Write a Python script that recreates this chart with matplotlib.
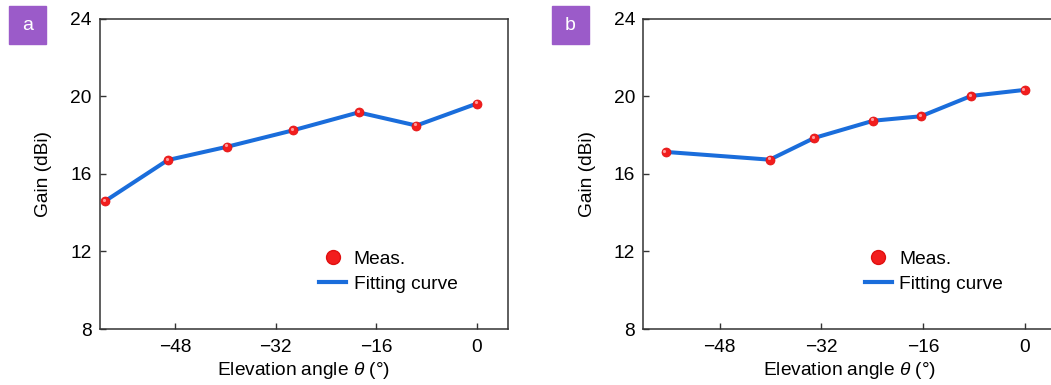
import matplotlib
matplotlib.use("Agg")
import matplotlib.pyplot as plt
import matplotlib.transforms as mtransforms
from matplotlib.lines import Line2D

plt.rcParams['font.family'] = ['Liberation Sans', 'DejaVu Sans']
plt.rcParams['mathtext.fontset'] = 'custom'
plt.rcParams['mathtext.it'] = 'Liberation Sans:italic'
plt.rcParams['mathtext.rm'] = 'Liberation Sans'

# Panel a data
angle_a = [-59.2, -49.2, -39.7, -29.3, -18.8, -9.6, 0.0]
gain_a = [14.6, 16.72, 17.41, 18.25, 19.18, 18.5, 19.63]
# Panel b data
angle_b = [-56.5, -40.1, -33.1, -23.8, -16.3, -8.4, 0.0]
gain_b = [17.14, 16.74, 17.86, 18.75, 18.98, 20.03, 20.34]

xticks = [-48, -32, -16, 0]
yticks = [8, 12, 16, 20, 24]
panel_labels = ['a', 'b']

LINE_C = '#1a6ddb'
RED = '#f21d1d'
PURPLE = '#9b5bc9'
FS = 13.8

fig = plt.figure(figsize=(10.51, 3.85), dpi=100)
W, H = 1051, 385
ax_a = fig.add_axes([100 / W, 1 - 329 / H, 408 / W, 310 / H])
ax_b = fig.add_axes([643.3 / W, 1 - 329 / H, 413 / W, 310 / H])

def sphere(ax, x, y, size, zorder=4):
    ax.plot(x, y, ls='none', marker='o', ms=size, mfc=RED, mec='#e01010', mew=0.5, zorder=zorder)
    off = mtransforms.ScaledTranslation(-size * 0.12 / 72, size * 0.14 / 72, fig.dpi_scale_trans)
    ax.plot(x, y, ls='none', marker='o', ms=size * 0.35, mfc='#ff9a9a', mec='none',
            zorder=zorder + 1, transform=ax.transData + off)

for ax, xs, ys, lab, lx in [(ax_a, angle_a, gain_a, panel_labels[0], 9),
                             (ax_b, angle_b, gain_b, panel_labels[1], 552)]:
    ax.plot(xs, ys, color=LINE_C, lw=2.9, zorder=3, solid_capstyle='round')
    sphere(ax, xs, ys, 6.5)
    ax.set_xlim(-60, 5)
    ax.set_ylim(8, 24)
    ax.set_xticks(xticks)
    ax.set_xticklabels([('\u2212%d' % -t) if t < 0 else str(t) for t in xticks])
    ax.set_yticks(yticks)
    ax.tick_params(direction='in', length=4, width=1, labelsize=FS, color='#333333')
    ax.tick_params(axis='x', pad=7)
    ax.tick_params(axis='y', pad=6)
    for s in ax.spines.values():
        s.set_color('#333333')
        s.set_linewidth(1.1)
    ax.set_xlabel(r'Elevation angle $\it{\theta}$ (°)', fontsize=FS, labelpad=3)
    ax.set_ylabel('Gain (dBi)', fontsize=FS, labelpad=13)
    handles = [Line2D([], [], ls='none', marker='o', ms=10, mfc=RED, mec='#e01010'),
               Line2D([], [], color=LINE_C, lw=3)]
    ax.legend(handles, ['Meas.', 'Fitting curve'], loc='lower left',
              bbox_to_anchor=(0.495, 0.06), frameon=False, fontsize=FS,
              handlelength=1.4, handletextpad=0.4, labelspacing=0.4)
    # panel label box
    fig.patches.append(plt.Rectangle((lx / W, 1 - 44 / H), 37 / W, 38 / H,
                                     transform=fig.transFigure, color=PURPLE, zorder=0))
    fig.text((lx + 18.5) / W, 1 - 26 / H, lab, color='white', fontsize=14,
             ha='center', va='center')

fig.savefig('out.png', dpi=100)
